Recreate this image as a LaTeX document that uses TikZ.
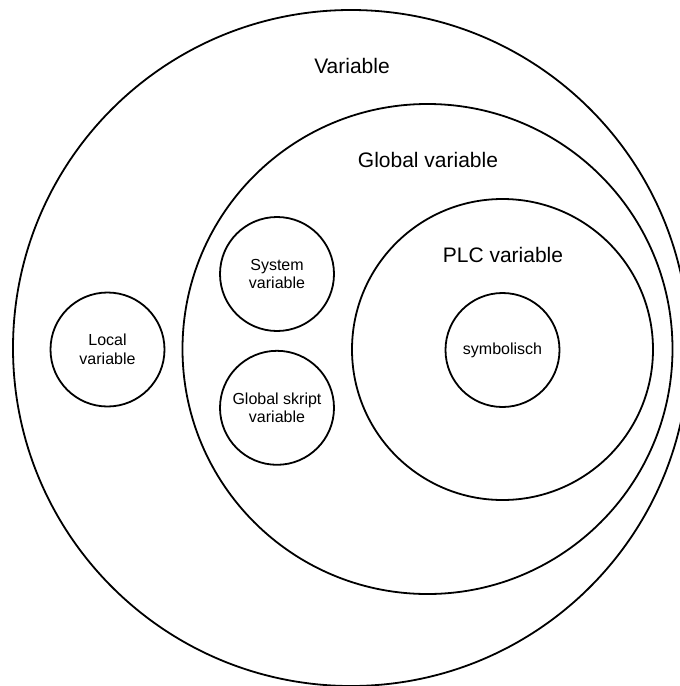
\documentclass[tikz,border=0pt]{standalone}
\usepackage{fontspec}
\setmainfont{Liberation Sans}
\usetikzlibrary{positioning}

\begin{document}
\begin{tikzpicture}[
  x=0.5pt, y=-0.5pt,
  ring/.style={circle, draw, line width=0.9pt, inner sep=0pt},
  smallring/.style={ring, minimum size=57pt, align=center, font=\fontsize{8}{9.3}\selectfont},
  biglabel/.style={font=\fontsize{10.5}{12}\selectfont},
  node distance=9pt
]
  \useasboundingbox (0,0) rectangle (680,686);

  % nested sets
  \node[ring, minimum size=338pt] (var) at (351,348) {};
  \node[ring, minimum size=245pt] (globvar) at (427.5,349) {};
  \node[ring, minimum size=150.5pt] (plcvar) at (502.5,349.5) {};

  \node[biglabel] (varlabel) at (352,66) {Variable};
  \node[biglabel] (globlabel) at (428,160) {Global variable};
  \node[biglabel] (plclabel) at (503,255) {PLC variable};

  % small sets
  \node[smallring] (localvar) at (107.5,349.5) {Local\\variable};
  \node[smallring] (sysvar) at (277,274) {System\\variable};
  \node[smallring, below=of sysvar] (skriptvar) {Global skript\\variable};
  \node[smallring] (symb) at (502.5,350) {symbolisch};
\end{tikzpicture}
\end{document}
